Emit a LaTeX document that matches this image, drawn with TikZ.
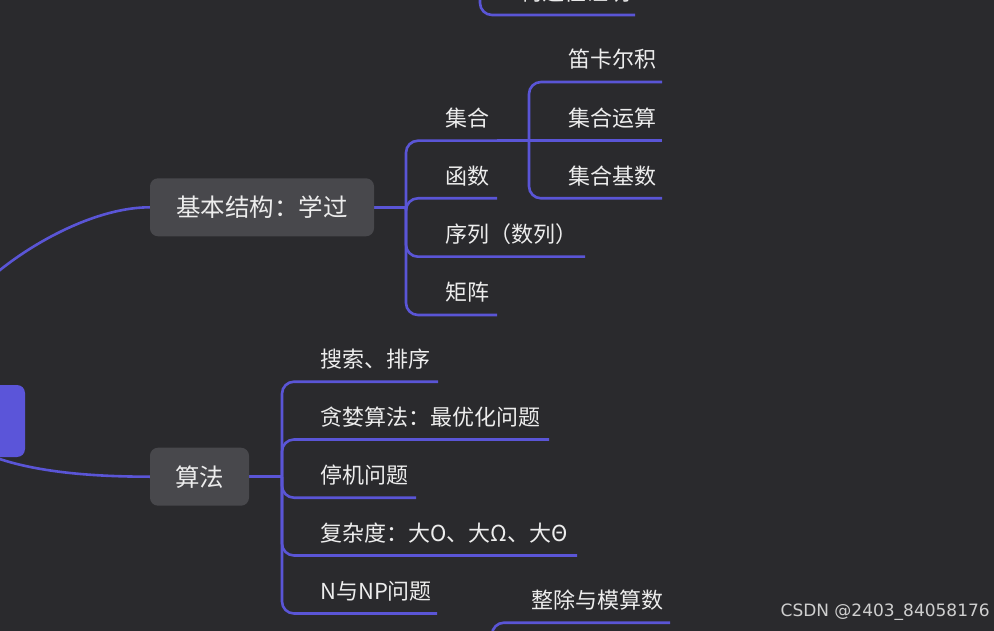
\documentclass[tikz,border=0pt]{standalone}
\usepackage{fontspec}
\newfontfamily\cjk{Noto Sans CJK SC}
\newfontfamily\wmfont{DejaVu Sans}
\definecolor{bgc}{HTML}{2A2A2D}
\definecolor{linec}{HTML}{5A55D6}
\definecolor{boxc}{HTML}{48484C}
\definecolor{rootc}{HTML}{5B55D9}
\definecolor{txtc}{HTML}{EDEDED}
\definecolor{wmc}{HTML}{CFCFCF}
\pgfdeclarelayer{edges}
\pgfsetlayers{edges,main}
\begin{document}
\begin{tikzpicture}[x=1pt,y=-1pt,
  conn/.style={draw=linec,line width=2.6pt,rounded corners=12pt},
  curve/.style={draw=linec,line width=2.6pt},
  topic/.style={fill=boxc,rounded corners=8pt,text=txtc,font=\cjk\fontsize{24.5}{28}\selectfont,minimum height=58pt,inner sep=0pt,anchor=center},
  leaf/.style={text=txtc,font=\cjk\fontsize{22}{26}\selectfont,inner sep=0pt,anchor=west,text height=0.88em,text depth=0.12em,yshift=-4.5pt},
  rootbox/.style={fill=rootc,rounded corners=8pt,minimum width=170pt,minimum height=72pt,inner sep=0pt},
  wm/.style={text=wmc,font=\wmfont\fontsize{17}{20}\selectfont,inner sep=0pt,anchor=east}]
\useasboundingbox (0,0) rectangle (994,631);

% root and main topics
\node[rootbox] (root) at (-60,421) {};
\node[topic,minimum width=224pt] (jb) at (262,207.3) {基本结构：学过};
\node[topic,minimum width=99pt] (sf) at (199.5,476.7) {算法};

% leaves of jb
\node[leaf] (a1) at (445,118) {集合};
\node[leaf] (a2) at (445,176) {函数};
\node[leaf] (a3) at (445,234.5) {序列（数列）};
\node[leaf] (a4) at (445,292.5) {矩阵};
% leaves of a1
\node[leaf] (b1) at (568,59.5) {笛卡尔积};
\node[leaf] (b2) at (568,118) {集合运算};
\node[leaf] (b3) at (568,176) {集合基数};
% leaves of sf
\node[leaf] (c1) at (320,359) {搜索、排序};
\node[leaf] (c2) at (320,417) {贪婪算法：最优化问题};
\node[leaf] (c3) at (320,475) {停机问题};
\node[leaf] (c4) at (320,533) {复杂度：大O、大Ω、大Θ};
\node[leaf] (c5) at (320,591) {N与NP问题};
% partially visible leaves
\node[leaf] (t1) at (520,-7.5) {构造性证明};
\node[leaf] (d1) at (531,600) {整除与模算数};

\node[wm] (wmk) at (990,612) {CSDN @2403\_84058176};

% coordinates
\coordinate (k1) at (0,270);
\coordinate (ja) at (406,207.3);
\coordinate (a1u) at (497,140.7);
\coordinate (a2u) at (497,198.3);
\coordinate (a3u) at (585,256.7);
\coordinate (a4u) at (497,315);
\coordinate (jc) at (529,140.7);
\coordinate (b1u) at (662,82);
\coordinate (b2u) at (662,140.7);
\coordinate (b3u) at (662,198.3);
\coordinate (js) at (282,476.7);
\coordinate (c1u) at (438,381.7);
\coordinate (c2u) at (549,439.5);
\coordinate (c3u) at (416,497.7);
\coordinate (c4u) at (577,555.5);
\coordinate (c5u) at (437,613.5);
\coordinate (tp) at (480,-80);
\coordinate (t1u) at (635,15);
\coordinate (bp) at (492,720);
\coordinate (d1u) at (670,622.7);

\begin{pgfonlayer}{edges}
\fill[bgc] (-200,-200) rectangle (1200,850);
\draw[curve] (root.center) .. controls (-60,340) and (-40,302) .. (k1)
   .. controls (40,238) and (100,207.3) .. (jb.west);
\draw[curve] (root.center) .. controls (-30,460) and (40,476.7) .. (sf.west);
% jb branches
\draw[conn] (jb.east) -- (ja);
\draw[conn] (ja) |- (a1u);
\draw[conn] (ja) |- (a2u);
\draw[conn] (ja) |- (a3u);
\draw[conn] (ja) |- (a4u);
\draw[conn] (a1u) -- (jc);
\draw[conn] (jc) |- (b1u);
\draw[conn] (jc) -- (b2u);
\draw[conn] (jc) |- (b3u);
% sf branches
\draw[conn] (sf.east) -- (js);
\draw[conn] (js) |- (c1u);
\draw[conn] (js) |- (c2u);
\draw[conn] (js) |- (c3u);
\draw[conn] (js) |- (c4u);
\draw[conn] (js) |- (c5u);
% partial branches
\draw[conn] (tp) |- (t1u);
\draw[conn] (bp) |- (d1u);
\end{pgfonlayer}
\end{tikzpicture}
\end{document}
